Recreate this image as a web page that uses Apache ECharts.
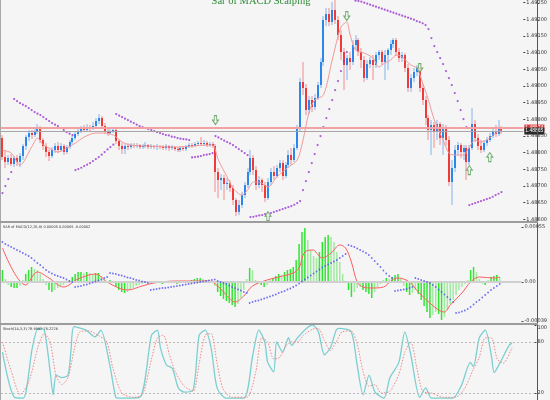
<!DOCTYPE html>
<html><head><meta charset="utf-8">
<script src="https://cdn.jsdelivr.net/npm/echarts@6/dist/echarts.min.js"></script>
<style>html,body{margin:0;padding:0;background:#f5f5f5}#c{width:550px;height:400px}</style>
</head><body><div id="c"></div>
<script>
// ---------- DATA (prices in points, 1 point = 0.00001) ----------
const chartTitle = 'Sar of MACD Scalping';
const macdCaption = 'SAR of MACD(12,26,9) 0.00005 0.00005 -0.00002';
const stochCaption = 'Stoch(14,3,3) 78.9542 76.2226';
const barSlots = 179;            // bar slots on the time axis (last ones empty, chart shift)
const priceMin = 148600, priceMax = 149250, priceStep = 50;
const macdMin = -41, macdMax = 59;
const macdTicks = [55, 0, -39];
const stochMin = 11.8, stochMax = 100;   // lower part of the window is cut off by the frame
const stochTicks = [100, 80, 20];
const stochLevels = [80, 20];
const hLineLevel = 148874;

const opens = [
148844,148787,148772,148784,148766,148784,148772,148790,148820,148847,
148859,148853,148865,148874,148838,148820,148802,148790,148808,148820,
148808,148820,148802,148817,148832,148844,148856,148865,148874,148868,
148877,148871,148880,148895,148904,148880,148865,148859,148865,148868,
148835,148820,148811,148820,148817,148823,148820,148823,148817,148820,
148823,148817,148820,148817,148820,148817,148814,148820,148814,148817,
148811,148808,148814,148811,148820,148823,148820,148826,148829,148826,
148829,148823,148826,148820,148742,148718,148724,148706,148709,148694,
148658,148622,148643,148673,148703,148742,148784,148748,148703,148718,
148703,148664,148712,148742,148730,148754,148769,148730,148763,148793,
148778,148814,148874,149012,148994,148928,148958,148937,148964,149003,
149072,149198,149216,149192,149228,149198,149153,149102,149063,149084,
149072,149123,149138,149102,149078,149024,149066,149078,149063,149093,
149102,149072,149093,149108,149126,149138,149102,149084,149093,149054,
148994,149024,149042,149054,148994,148958,148904,148868,148883,148862,
148886,148844,148874,148838,148712,148754,148808,148823,148802,148814,
148772,148814,148886,148844,148820,148808,148829,148838,148850,148862,
148856,148874];
const closes = [
148787,148772,148784,148766,148784,148772,148790,148820,148847,148859,
148853,148865,148874,148838,148820,148802,148790,148808,148820,148808,
148820,148802,148817,148832,148844,148856,148865,148874,148868,148877,
148871,148880,148895,148904,148880,148865,148859,148865,148868,148835,
148820,148811,148820,148817,148823,148820,148823,148817,148820,148823,
148817,148820,148817,148820,148817,148814,148820,148814,148817,148811,
148808,148814,148811,148820,148823,148820,148826,148829,148826,148829,
148823,148826,148820,148742,148718,148724,148706,148709,148694,148658,
148622,148643,148673,148703,148742,148784,148748,148703,148718,148703,
148664,148712,148742,148730,148754,148769,148730,148763,148793,148778,
148814,148874,149012,148994,148928,148958,148937,148964,149003,149072,
149198,149216,149192,149228,149198,149153,149102,149063,149084,149072,
149123,149138,149102,149078,149024,149066,149078,149063,149093,149102,
149072,149093,149108,149126,149138,149102,149084,149093,149054,148994,
149024,149042,149054,148994,148958,148904,148868,148883,148862,148886,
148844,148874,148838,148712,148754,148808,148823,148802,148814,148772,
148814,148886,148844,148820,148808,148829,148838,148850,148862,148856,
148874,148865];
const highs = [
148853,148808,148793,148796,148790,148793,148799,148826,148853,148868,
148868,148874,148886,148880,148844,148829,148811,148817,148829,148832,
148829,148826,148823,148838,148850,148862,148874,148880,148883,148886,
148883,148892,148904,148916,148910,148889,148874,148871,148877,148874,
148841,148829,148826,148829,148829,148829,148829,148826,148826,148832,
148826,148826,148823,148826,148823,148823,148826,148823,148823,148820,
148817,148820,148820,148823,148829,148829,148832,148835,148847,148838,
148835,148832,148832,148826,148754,148736,148733,148724,148718,148703,
148664,148658,148682,148712,148754,148808,148793,148760,148730,148724,
148712,148724,148754,148760,148763,148778,148778,148772,148808,148814,
148826,148883,149024,149072,149006,148970,148970,148976,149012,149084,
149210,149234,149234,149252,149258,149210,149168,149114,149093,149102,
149138,149153,149144,149114,149090,149078,149087,149093,149102,149108,
149108,149108,149114,149138,149144,149144,149114,149102,149099,149066,
149036,149054,149063,149066,149006,148970,148913,148898,148892,148898,
148892,148886,148883,148850,148778,148823,148832,148829,148823,148823,
148823,148934,148898,148856,148838,148838,148847,148859,148871,148883,
148898,148880];
const lows = [
148778,148754,148763,148760,148757,148760,148757,148778,148808,148835,
148841,148847,148856,148829,148808,148787,148775,148784,148799,148799,
148802,148793,148796,148811,148826,148838,148850,148859,148862,148865,
148865,148868,148874,148886,148871,148856,148850,148853,148859,148826,
148808,148796,148796,148808,148811,148814,148814,148811,148811,148814,
148811,148811,148811,148808,148811,148808,148808,148805,148808,148805,
148802,148802,148805,148805,148814,148814,148817,148820,148820,148820,
148817,148817,148814,148682,148664,148688,148658,148688,148682,148643,
148610,148613,148634,148664,148694,148733,148733,148688,148694,148682,
148652,148658,148703,148718,148724,148742,148718,148724,148754,148763,
148772,148808,148862,148973,148913,148916,148922,148928,148958,148994,
149060,149180,149180,149183,149186,149138,149078,148988,149018,149048,
149063,149108,149090,149054,149012,149018,149054,149018,149054,149078,
149063,149018,149048,149093,149114,149090,149072,149072,149042,148982,
148982,149012,149030,148982,148943,148883,148838,148793,148814,148838,
148823,148793,148820,148700,148643,148742,148793,148784,148778,148718,
148763,148808,148832,148808,148799,148802,148820,148832,148844,148847,
148850,148856];
const sarValues = [
148679,148700,148721,148742,148961,148955,148949,148944,148940,148934,
148928,148922,148917,148913,148907,148901,148895,148889,148884,148880,
148874,148868,148862,148857,148853,148748,148751,148755,148760,148764,
148769,148775,148781,148787,148794,148802,148810,148817,148824,148916,
148911,148907,148902,148898,148893,148889,148884,148880,148877,148874,
148871,148868,148865,148862,148859,148856,148853,148852,148848,148847,
148844,148842,148841,148840,148838,148786,148787,148788,148790,148793,
148794,148796,148799,148850,148846,148841,148836,148832,148828,148823,
148817,148811,148805,148799,148793,148607,148608,148610,148612,148613,
148616,148618,148619,148622,148625,148628,148631,148634,148637,148640,
148644,148649,148655,148688,148715,148742,148769,148796,148823,148850,
148877,148904,148931,148958,148988,149015,149045,149075,149102,null,
null,149256,149255,149253,149250,149247,149244,149241,149238,149235,
149232,149229,149226,149223,149220,149217,149214,149211,149208,149205,
149202,149199,149195,149192,149188,149183,149171,149144,149120,149102,
149084,149066,149045,149024,149003,148979,148955,148928,148901,148877,
148643,148646,148649,148652,148655,148658,148661,148664,148668,148673,
148677,148682];
const maPoints = [[0,148808],[3,148799],[6,148763],[10,148817],[12,148844],[14,148823],[16,148814],
[19,148802],[22,148814],[25,148829],[28,148847],[32,148859],[35,148859],[38,148853],[41,148832],
[44,148823],[50,148820],[60,148817],[65,148820],[70,148823],[72,148823],[74,148778],[77,148727],
[79,148694],[82,148673],[84,148688],[86,148712],[88,148712],[91,148697],[94,148727],[98,148757],
[101,148778],[103,148838],[105,148919],[107,148958],[110,148973],[113,149078],[116,149177],
[118,149192],[119,149159],[121,149108],[124,149099],[127,149084],[129,149057],[131,149069],
[133,149078],[135,149093],[137,149087],[140,149063],[142,149054],[144,149009],[146,148958],
[148,148898],[151,148838],[153,148799],[155,148793],[158,148793],[160,148817],[162,148838],
[164,148832],[167,148844],[169,148859],[171,148868]];
const downArrows = [[73,148898],[118,149210],[143,149054]];
const upArrows = [[91,148610],[160,148748],[167,148787]];

const macdHist = [
12,3,-3,-5,-6,-6,-4,2,8,12, 15,13,12,8,3,-3,-8,-10,-8,-6,
-4,-3,-1,2,5,8,10,10,9,10, 9,8,9,9,6,3,1,2,-1,-5,
-8,-10,-11,-10,-8,-6,-4,-3,-2,-1, -1,0,-1,1,-1,-2,-1,0,-1,-1,
-2,-1,0,1,1,2,3,4,4,3, 2,1,1,-4,-10,-14,-17,-19,-21,-23,
-25,-22,-16,-8,3,14,12,2,-1,-3, -5,-3,2,4,6,8,7,10,12,13,
15,22,38,50,54,42,32,26,24,30, 40,45,47,45,40,30,20,8,0,-8,
-15,-10,-6,-5,-8,-10,-12,-16,-10,-5, -2,2,4,3,5,7,8,3,-4,-10,
-13,-11,-8,-12,-18,-24,-30,-36,-33,-30, -32,-38,-35,-28,-22,-18,-13,-8,-5,-2,
2,12,15,10,3,-2,-3,2,5,6, 7,5];
const macdLine = [[0,34],[8,-3],[12,10],[16,4],[21,-5],[26,3],[32,8],[36,0],[40,-6],[43,-8],[48,-4],
[52,-1],[60,1],[71,1],[74,-4],[77,-13],[80,-20],[83,-14],[86,-4],[91,2],[95,5],[100,9],[102,14],
[104,30],[107,32],[108,29],[110,24],[113,29],[116,37],[118,34],[120,20],[122,0],[124,-5],[127,-6],
[131,-5],[134,2],[136,4],[140,0],[143,-10],[147,-21],[150,-28],[152,-30],[154,-23],[158,-11],
[161,0],[164,5],[169,4],[171,5]];
const macdSar = [
40,38,36.5,35,33.5,32,30.5,29,27.5,26, 24,21.5,19,17,14.5,12,10,8.5,7,6,
5,4,2.5,1,0, -5,-4.5,-4,-3,-2.5, -1.5,-0.5,0.5,1.5,2.5,4,5, 9,8.5,8,
7,6.5,5.5,4.5,4,3,2,1.5,0.5,0,-1, -8,-7.5,-7,-6.5,-6,-6,-5.5,-5,-4.5,
-4,-3.5,-3,-2.5,-2,-1.5,-1,-0.5,0,0.5, 1,1.5,2,2.5,
1,0,-1,-2,-3.5,-5,-6,-7.5,-8.5,-10,-11,
-21,-20,-19,-18.5,-17.5,-16.5,-15.5,-14.5,-13.5,-12.5,
-11,-10,-9,-7.5,-6.5,-5,-3.5,-1.5,0.5,2.5,
4.5,6.5,8.5,10.5,12.5,14.5,16,17.5,19,20.5, 22,24,26,28,
37,36,35,33.5,32,30.5,29,27,24,21, 18,15,11.5,8.5,6,4,
-9,-8.5,-8,-7.5,-7,-6,-5,
4,3,2,1,0,-1,-3,-5,-7.5,-10,-12.5,-15,-17.5,-20,
-31,-30.5,-29.5,-28.5,-27,-25,-22.5,-20,-18,-15.5,-13,-10.5,-8,-6,-4,-2];
const stochK = [[0,68],[4,15],[7,14],[10,73],[12,96],[14,94],[16,45],[17,18],[18,41],[20,38],[22,41],
[23,71],[24,98],[28,94],[31,86],[33,94],[36,53],[38,15],[39,14],[46,15],[50,88],[52,94],[53,73],
[55,53],[57,49],[59,26],[61,21],[64,24],[66,88],[68,94],[70,73],[72,26],[75,14],[81,14],[84,65],
[86,94],[88,80],[89,56],[91,45],[92,80],[94,68],[96,85],[97,76],[99,85],[102,96],[104,100],[106,92],
[108,65],[110,73],[112,94],[113,96],[117,92],[119,53],[121,18],[123,41],[125,21],[128,14],[130,38],
[133,56],[135,92],[137,65],[140,15],[142,26],[144,14],[151,14],[154,29],[157,56],[158,51],[160,85],
[162,94],[164,65],[165,44],[167,56],[170,76],[171,79]];
const stochD = [[0,80],[3,45],[6,18],[9,35],[12,75],[14,90],[16,80],[18,40],[20,30],[22,38],[24,70],
[26,92],[29,93],[32,88],[35,80],[37,50],[40,20],[44,15],[47,18],[50,60],[52,85],[54,88],[56,65],
[58,45],[61,28],[64,22],[66,55],[68,88],[70,90],[72,55],[74,25],[77,15],[82,15],[85,45],[87,85],
[89,80],[91,60],[93,62],[95,75],[97,80],[99,80],[101,88],[104,95],[106,96],[108,82],[110,70],
[112,80],[114,92],[117,93],[119,78],[121,45],[123,28],[125,30],[127,20],[130,22],[133,42],[135,68],
[137,80],[139,50],[141,22],[144,20],[148,15],[152,15],[155,25],[158,48],[160,62],[162,85],[164,85],
[166,60],[168,55],[171,74]];

// ---------- CHART ----------
const chart = echarts.init(document.getElementById('c'), null, {renderer: 'canvas'});
const cats = Array.from({length: barSlots}, (_, i) => String(i));
const ohlc = opens.map((o, i) => [i, o, closes[i], lows[i], highs[i]]);
const lastClose = closes[closes.length - 1];
const fmtPrice = v => (v / 1e5).toFixed(5);

function renderCandle(params, api) {
  const i = api.value(0), o = api.value(1), c = api.value(2), l = api.value(3), h = api.value(4);
  const pO = api.coord([i, o]), pC = api.coord([i, c]);
  const pL = api.coord([i, l]), pH = api.coord([i, h]);
  const up = c >= o;
  const bx = Math.round(pO[0] - 1);
  const top = Math.min(pO[1], pC[1]);
  const hgt = Math.max(1, Math.abs(pO[1] - pC[1]));
  return {type: 'group', children: [
    {type: 'line', shape: {x1: bx + 1, y1: pH[1], x2: bx + 1, y2: pL[1]},
     style: {stroke: up ? '#80b4ee' : '#f08c8c', lineWidth: 1}},
    {type: 'rect', shape: {x: bx, y: top, width: 2, height: hgt},
     style: {fill: up ? '#2d86ec' : '#f03a3a'}}
  ]};
}

const xAx = g => ({type: 'category', gridIndex: g, data: cats, show: false, boundaryGap: true});
const rightAxisBase = {
  type: 'value', position: 'right', axisLine: {show: false}, splitLine: {show: false},
  axisTick: {show: true, length: 2, lineStyle: {color: '#444'}}
};
const arrowDown = 'path://M3,0 L7,0 L7,6 L10,6 L5,12 L0,6 L3,6 Z';
const arrowUp = 'path://M5,0 L10,6 L7,6 L7,12 L3,12 L3,6 L0,6 Z';
const labelStyle = {fontSize: 5, color: '#333', margin: 3, fontFamily: 'DejaVu Sans'};

const option = {
  backgroundColor: '#f5f5f5',
  animation: false,
  grid: [
    {left: 1, right: 13, top: 2.7, height: 216.7},
    {left: 1, right: 13, top: 223, height: 100},
    {left: 1, right: 13, top: 325, bottom: 0}
  ],
  xAxis: [xAx(0), xAx(1), xAx(2)],
  yAxis: [
    Object.assign({}, rightAxisBase, {gridIndex: 0, min: priceMin, max: priceMax, interval: priceStep,
      axisLabel: Object.assign({}, labelStyle, {formatter: fmtPrice, showMinLabel: true, showMaxLabel: true})}),
    Object.assign({}, rightAxisBase, {gridIndex: 1, min: macdMin, max: macdMax,
      axisTick: {show: true, length: 2, lineStyle: {color: '#444'}, customValues: macdTicks},
      axisLabel: Object.assign({}, labelStyle, {customValues: macdTicks,
        formatter: v => v === 0 ? '0.00' : (v / 1e5).toFixed(5)})}),
    Object.assign({}, rightAxisBase, {gridIndex: 2, min: stochMin, max: stochMax,
      axisTick: {show: true, length: 2, lineStyle: {color: '#444'}, customValues: stochTicks},
      axisLabel: Object.assign({}, labelStyle, {customValues: stochTicks,
        formatter: v => v === 100 ? '{t|100}' : String(v),
        rich: {t: {fontSize: 5, color: '#333', padding: [6, 0, 0, 0]}}})})
  ],
  series: [
    {type: 'custom', name: 'candles', xAxisIndex: 0, yAxisIndex: 0, data: ohlc,
     encode: {x: 0, y: [1, 2, 3, 4]}, renderItem: renderCandle, clip: false, silent: true},
    {type: 'line', name: 'ma', xAxisIndex: 0, yAxisIndex: 0, data: maPoints, symbol: 'none',
     smooth: 0.3, lineStyle: {color: '#f29a9a', width: 1}, silent: true, z: 3},
    {type: 'scatter', name: 'sar', xAxisIndex: 0, yAxisIndex: 0,
     data: sarValues.map((v, i) => v === null ? null : [i, v]).filter(Boolean),
     symbol: 'circle', symbolSize: 2.2, itemStyle: {color: '#9a35d2'}, silent: true, clip: false, z: 4,
     markLine: {silent: true, symbol: 'none', animation: false,
       data: [
         {yAxis: hLineLevel, lineStyle: {color: '#f2a2a2', width: 2, type: 'solid'},
          label: {show: true, position: 'end', distance: 1, formatter: p => fmtPrice(p.value),
            fontSize: 5, color: '#fff', backgroundColor: '#e03c3c', padding: [1, 1]}},
         {yAxis: lastClose, lineStyle: {color: '#a6a6a6', width: 1, type: 'solid'},
          label: {show: true, position: 'end', distance: 1, formatter: p => fmtPrice(p.value),
            fontSize: 5, color: '#fff', backgroundColor: '#2a2a2a', padding: [1, 1]}}
       ]}},
    {type: 'scatter', name: 'down', xAxisIndex: 0, yAxisIndex: 0, data: downArrows, symbol: arrowDown,
     symbolSize: [6, 9], itemStyle: {color: '#f5f5f5', borderColor: '#4f9a4f', borderWidth: 1}, silent: true, z: 6},
    {type: 'scatter', name: 'up', xAxisIndex: 0, yAxisIndex: 0, data: upArrows, symbol: arrowUp,
     symbolSize: [6, 9], itemStyle: {color: '#f5f5f5', borderColor: '#4f9a4f', borderWidth: 1}, silent: true, z: 6, clip: false},

    {type: 'bar', name: 'hist', xAxisIndex: 1, yAxisIndex: 1, barWidth: 1.5, silent: true,
     data: macdHist.map((v, i) => {
       const prev = i > 0 ? macdHist[i - 1] : 0;
       const grow = Math.abs(v) >= Math.abs(prev) && v * prev >= 0;
       return {value: v, itemStyle: {color: grow ? '#2ee62e' : '#9fea9f'}};
     }),
     markLine: {silent: true, symbol: 'none', label: {show: false},
       data: [{yAxis: 0, lineStyle: {color: '#d0d0d0', width: 2, type: 'solid'}}]}},
    {type: 'line', name: 'macd', xAxisIndex: 1, yAxisIndex: 1, data: macdLine, symbol: 'none',
     smooth: 0.35, lineStyle: {color: '#ff5c5c', width: 1}, silent: true, z: 4},
    {type: 'scatter', name: 'macdSar', xAxisIndex: 1, yAxisIndex: 1,
     data: macdSar.map((v, i) => [i, v]), symbol: 'circle', symbolSize: 1.8,
     itemStyle: {color: '#4f4ff0'}, silent: true, z: 5},

    {type: 'line', name: 'K', xAxisIndex: 2, yAxisIndex: 2, data: stochK, symbol: 'none', smooth: 0.25,
     lineStyle: {color: '#7ccfd0', width: 1.3}, silent: true, z: 4, clip: false,
     markLine: {silent: true, symbol: 'none', label: {show: false},
       data: stochLevels.map(v => ({yAxis: v, lineStyle: {color: '#bdbdbd', width: 1, type: [2, 2]}}))}},
    {type: 'line', name: 'D', xAxisIndex: 2, yAxisIndex: 2, data: stochD, symbol: 'none', smooth: 0.25,
     lineStyle: {color: '#f08888', width: 1, type: [1.5, 1.5]}, silent: true, z: 5, clip: false}
  ],
  graphic: [
    {type: 'rect', shape: {x: 0, y: 0, width: 1, height: 400}, style: {fill: '#a8a8a8'}, silent: true, z: 50},
    {type: 'rect', shape: {x: 537, y: 0, width: 1, height: 400}, style: {fill: '#555'}, silent: true, z: 50},
    {type: 'rect', shape: {x: 0, y: 221, width: 538, height: 2}, style: {fill: '#9c9c9c'}, silent: true, z: 50},
    {type: 'rect', shape: {x: 0, y: 323, width: 538, height: 2}, style: {fill: '#9c9c9c'}, silent: true, z: 50},
    {type: 'text', x: 261, y: 1, silent: true, z: 50,
     style: {text: chartTitle, fill: '#2f8a38', fontSize: 10.5, fontFamily: 'Liberation Serif',
       align: 'center', verticalAlign: 'middle', textAlign: 'center', textVerticalAlign: 'middle'}},
    {type: 'text', x: 3, y: 227, silent: true, z: 50,
     style: {text: macdCaption, fill: '#333', fontSize: 3.5, fontFamily: 'DejaVu Sans',
       align: 'left', verticalAlign: 'middle', textAlign: 'left', textVerticalAlign: 'middle'}},
    {type: 'text', x: 3, y: 329, silent: true, z: 50,
     style: {text: stochCaption, fill: '#333', fontSize: 3.5, fontFamily: 'DejaVu Sans',
       align: 'left', verticalAlign: 'middle', textAlign: 'left', textVerticalAlign: 'middle'}}
  ]
};
chart.setOption(option);
</script>
</body></html>
